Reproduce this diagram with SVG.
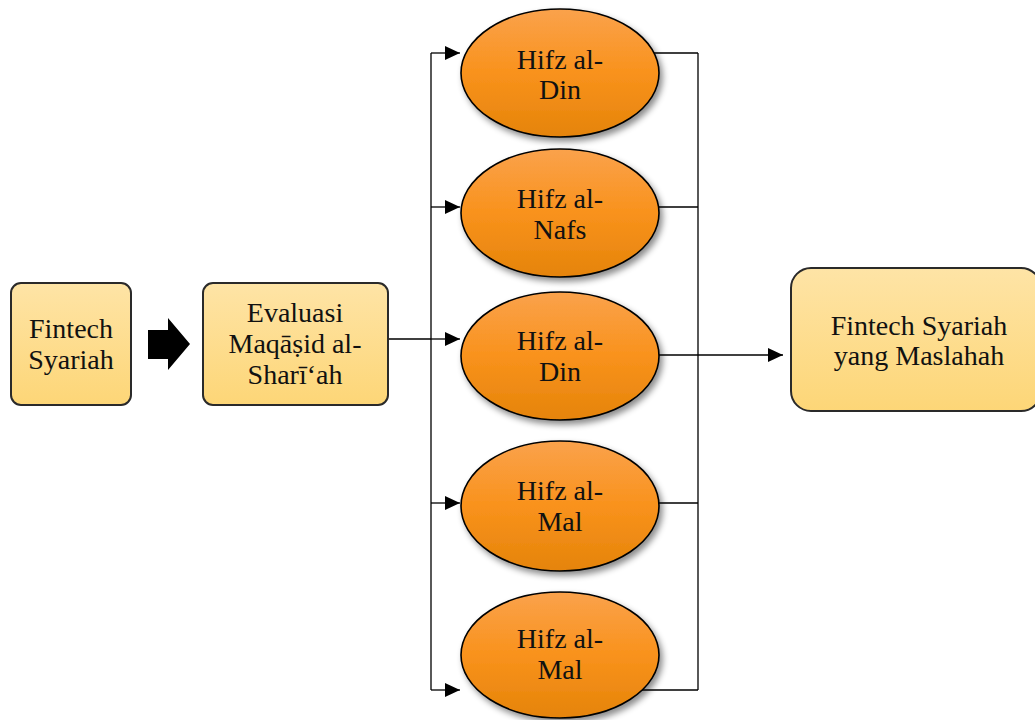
<svg xmlns="http://www.w3.org/2000/svg" width="1035" height="720" viewBox="0 0 1035 720">
<style>
.box{stroke:#2a2a2a;stroke-width:2;fill:url(#gBox)}
.ell{stroke:#000;stroke-width:1.6;fill:url(#gEll);filter:url(#sh)}
.t{font-family:"Liberation Serif","Times New Roman",serif;font-size:28px;fill:#111;text-anchor:middle}
.c{fill:none;stroke:#000;stroke-width:1.3}
</style>
<defs>
<linearGradient id="gBox" x1="0" y1="0" x2="0" y2="1">
<stop offset="0" stop-color="#FEE4A6"/>
<stop offset="1" stop-color="#FDD677"/>
</linearGradient>
<linearGradient id="gEll" x1="0" y1="0" x2="0" y2="1">
<stop offset="0" stop-color="#FAA24C"/>
<stop offset="0.5" stop-color="#F9921C"/>
<stop offset="1" stop-color="#E5840A"/>
</linearGradient>
<filter id="sh" x="-20%" y="-20%" width="150%" height="150%">
<feDropShadow dx="3" dy="4" stdDeviation="3" flood-color="#000" flood-opacity="0.45"/>
</filter>
<marker id="ah" markerUnits="userSpaceOnUse" markerWidth="16" markerHeight="14" refX="15" refY="7" orient="auto">
<path d="M0,0 L15,7 L0,14 Z" fill="#000"/>
</marker>
</defs>
<g id="connectors">
<path class="c" d="M389,339 H431 M431,53 V690"/>
<path class="c" d="M431,53 H460" marker-end="url(#ah)"/>
<path class="c" d="M431,207 H460" marker-end="url(#ah)"/>
<path class="c" d="M431,339 H460" marker-end="url(#ah)"/>
<path class="c" d="M431,503 H460" marker-end="url(#ah)"/>
<path class="c" d="M431,690 H460" marker-end="url(#ah)"/>
<path class="c" d="M600,53 H698 M600,207 H698 M600,503 H698 M600,690 H698 M698,53 V690"/>
<path class="c" d="M600,355 H783" marker-end="url(#ah)"/>
<polygon points="148,330 168,330 168,318 190,344 168,370 168,359 148,359" fill="#000"/>
</g>
<g id="n-fintech">
<rect class="box" x="11" y="283" width="120" height="122" rx="10"/>
<text class="t" x="71" y="338">Fintech</text>
<text class="t" x="71" y="369">Syariah</text>
</g>
<g id="n-evaluasi">
<rect class="box" x="203" y="283" width="185" height="122" rx="10"/>
<text class="t" x="295" y="322">Evaluasi</text>
<text class="t" x="295" y="353">Maqāṣid al-</text>
<text class="t" x="295" y="384">Sharī‘ah</text>
</g>
<g id="n-din1">
<ellipse class="ell" cx="560" cy="73" rx="99" ry="64"/>
<text class="t" x="560" y="69">Hifz al-</text>
<text class="t" x="560" y="99">Din</text>
</g>
<g id="n-nafs">
<ellipse class="ell" cx="560" cy="213" rx="99" ry="64"/>
<text class="t" x="560" y="208">Hifz al-</text>
<text class="t" x="560" y="239">Nafs</text>
</g>
<g id="n-din2">
<ellipse class="ell" cx="560" cy="356" rx="99" ry="64"/>
<text class="t" x="560" y="350">Hifz al-</text>
<text class="t" x="560" y="381">Din</text>
</g>
<g id="n-mal1">
<ellipse class="ell" cx="560" cy="506" rx="99" ry="65"/>
<text class="t" x="560" y="500">Hifz al-</text>
<text class="t" x="560" y="531">Mal</text>
</g>
<g id="n-mal2">
<ellipse class="ell" cx="560" cy="655" rx="99" ry="63"/>
<text class="t" x="560" y="648">Hifz al-</text>
<text class="t" x="560" y="679">Mal</text>
</g>
<g id="n-result">
<rect class="box" x="791" y="268" width="250" height="143" rx="20"/>
<text class="t" x="919" y="335">Fintech Syariah</text>
<text class="t" x="919" y="365">yang Maslahah</text>
</g>
</svg>
